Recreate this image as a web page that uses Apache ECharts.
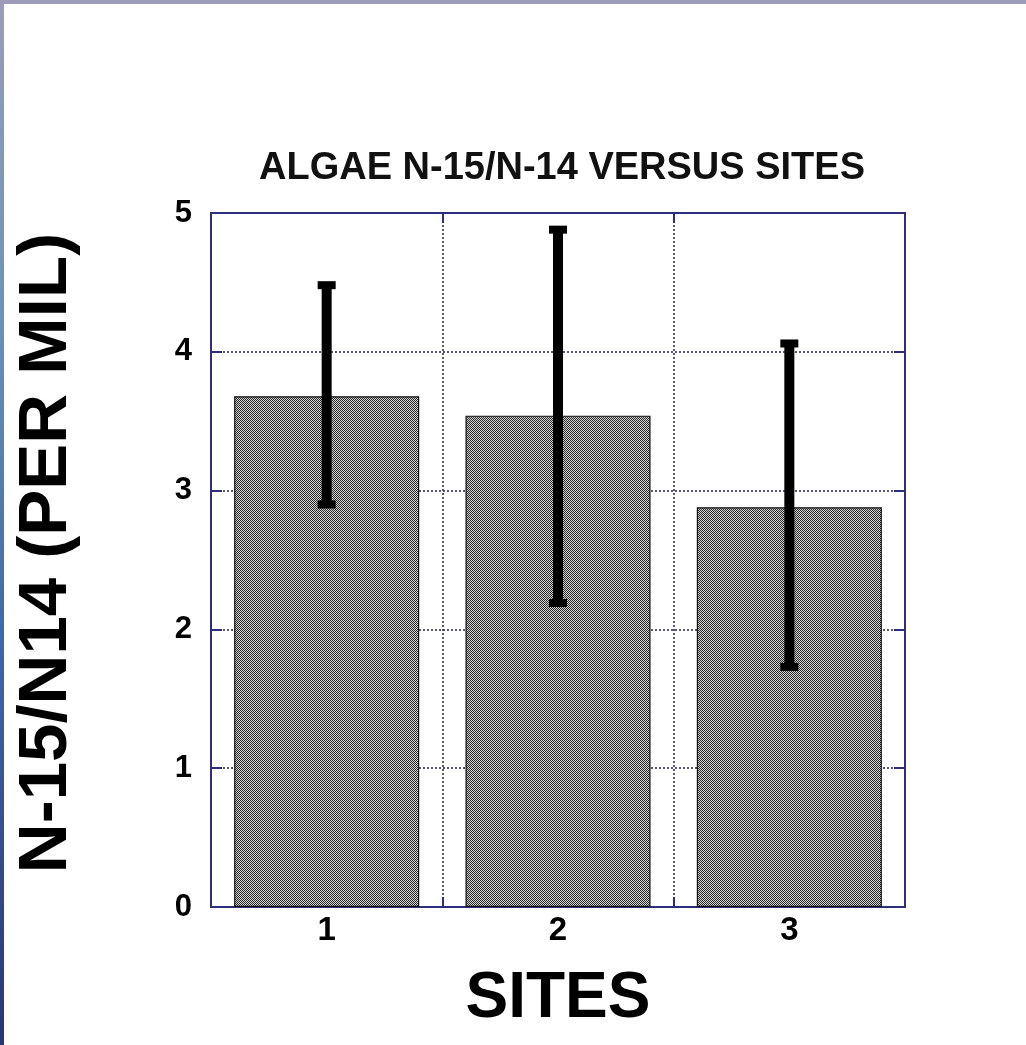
<!DOCTYPE html>
<html>
<head>
<meta charset="utf-8">
<title>Algae N-15/N-14 versus sites</title>
<script src="https://cdn.jsdelivr.net/npm/echarts@6/dist/echarts.min.js"></script>
<style>
  html, body { margin: 0; padding: 0; background: #ffffff; }
  #chart { width: 1026px; height: 1045px; }
</style>
</head>
<body>
<div id="chart"></div>
<script>
// Site categories and mean N-15/N-14 values with their error ranges
const sites = ['1', '2', '3'];
const meanValues = [3.68, 3.54, 2.88];
const errorLow = [2.9, 2.19, 1.73];
const errorHigh = [4.48, 4.88, 4.06];
const yTicks = [0, 1, 2, 3, 4, 5];

const FONT = '"Liberation Sans", Arial, sans-serif';
const NAVY = '#2e2e7a';

// Fine checkerboard used as the bar fill
function checkerPattern() {
  const c = document.createElement('canvas');
  c.width = 2; c.height = 2;
  const ctx = c.getContext('2d');
  ctx.fillStyle = '#d4d4d4';
  ctx.fillRect(0, 0, 2, 2);
  ctx.fillStyle = '#2a2a2a';
  ctx.fillRect(0, 0, 1, 1);
  ctx.fillRect(1, 1, 1, 1);
  return { image: c, repeat: 'repeat' };
}

const chart = echarts.init(document.getElementById('chart'), null, { renderer: 'canvas' });

const errorData = sites.map((s, i) => [i, errorLow[i], errorHigh[i]]);

const option = {
  backgroundColor: '#ffffff',
  animation: false,
  title: {
    text: 'ALGAE N-15/N-14 VERSUS SITES',
    left: 557,
    textAlign: 'center',
    top: 145,
    textStyle: { fontFamily: FONT, fontWeight: 'bold', fontSize: 38, color: '#111' }
  },
  graphic: [
    {
      type: 'rect', x: 0, y: 0, z: 100,
      shape: { width: 4, height: 1045 },
      style: {
        fill: new echarts.graphic.LinearGradient(0, 0, 0, 1, [
          { offset: 0, color: '#9c9cba' },
          { offset: 0.3, color: '#6a94b8' },
          { offset: 0.6, color: '#3f6aa8' },
          { offset: 1, color: '#2a3478' }
        ])
      }
    },
    {
      type: 'rect', x: 0, y: 0, z: 100,
      shape: { width: 1026, height: 4 },
      style: { fill: '#9c9cb8' }
    },
    {
      type: 'text', z: 10,
      x: 47, y: 553, rotation: Math.PI / 2,
      style: {
        text: 'N-15/N14 (PER MIL)',
        font: 'bold 69px ' + FONT,
        fill: '#000',
        textAlign: 'center',
        textVerticalAlign: 'middle'
      }
    }
  ],
  grid: {
    left: 211, right: 121, top: 213, bottom: 138,
    outerBoundsMode: 'none',
    containLabel: false,
    show: false
  },
  xAxis: [
    {
      type: 'category',
      data: sites,
      boundaryGap: true,
      name: 'SITES',
      nameLocation: 'middle',
      nameGap: 60,
      nameTextStyle: { fontFamily: FONT, fontWeight: 'bold', fontSize: 64, color: '#000' },
      axisLine: { show: true, onZero: false, lineStyle: { color: NAVY, width: 2 } },
      axisTick: { show: true, inside: true, length: 10, lineStyle: { color: NAVY, width: 2 } },
      axisLabel: { fontFamily: FONT, fontWeight: 'bold', fontSize: 33, color: '#000', margin: 7 },
      splitLine: { show: true, lineStyle: { color: '#22224a', type: [2, 2], width: 1.5 } }
    },
    {
      type: 'category',
      data: sites,
      position: 'top',
      boundaryGap: true,
      axisLine: { show: true, onZero: false, lineStyle: { color: NAVY, width: 2 } },
      axisTick: { show: true, inside: true, length: 10, lineStyle: { color: NAVY, width: 2 } },
      axisLabel: { show: false },
      splitLine: { show: false }
    }
  ],
  yAxis: [
    {
      type: 'value',
      min: yTicks[0],
      max: yTicks[yTicks.length - 1],
      interval: 1,
      axisLine: { show: true, onZero: false, lineStyle: { color: NAVY, width: 2 } },
      axisTick: { show: true, inside: true, length: 11, lineStyle: { color: NAVY, width: 2 } },
      axisLabel: {
        fontFamily: FONT, fontWeight: 'bold', fontSize: 31, color: '#000',
        margin: 19, verticalAlign: 'middle', padding: [0, 0, 12, 0]
      },
      splitLine: { show: true, lineStyle: { color: '#22224a', type: [2, 2], width: 1.5 } }
    },
    {
      type: 'value',
      position: 'right',
      min: yTicks[0],
      max: yTicks[yTicks.length - 1],
      interval: 1,
      axisLine: { show: true, onZero: false, lineStyle: { color: NAVY, width: 2 } },
      axisTick: { show: true, inside: true, length: 11, lineStyle: { color: NAVY, width: 2 } },
      axisLabel: { show: false },
      splitLine: { show: false }
    }
  ],
  series: [
    {
      type: 'bar',
      data: meanValues,
      barWidth: '80%',
      z: 2,
      itemStyle: {
        color: checkerPattern(),
        borderColor: '#111',
        borderWidth: 1.2
      }
    },
    {
      type: 'custom',
      data: errorData,
      z: 5,
      renderItem: function (params, api) {
        const x = api.value(0);
        const lo = api.coord([x, api.value(1)]);
        const hi = api.coord([x, api.value(2)]);
        const stemW = 10, capW = 18, capH = 8;
        return {
          type: 'group',
          children: [
            {
              type: 'rect',
              shape: { x: hi[0] - stemW / 2, y: hi[1], width: stemW, height: lo[1] - hi[1] },
              style: { fill: '#000' }
            },
            {
              type: 'rect',
              shape: { x: hi[0] - capW / 2, y: hi[1] - capH / 2, width: capW, height: capH },
              style: { fill: '#000' }
            },
            {
              type: 'rect',
              shape: { x: lo[0] - capW / 2, y: lo[1] - capH / 2, width: capW, height: capH },
              style: { fill: '#000' }
            }
          ]
        };
      }
    }
  ]
};

chart.setOption(option);
</script>
</body>
</html>
